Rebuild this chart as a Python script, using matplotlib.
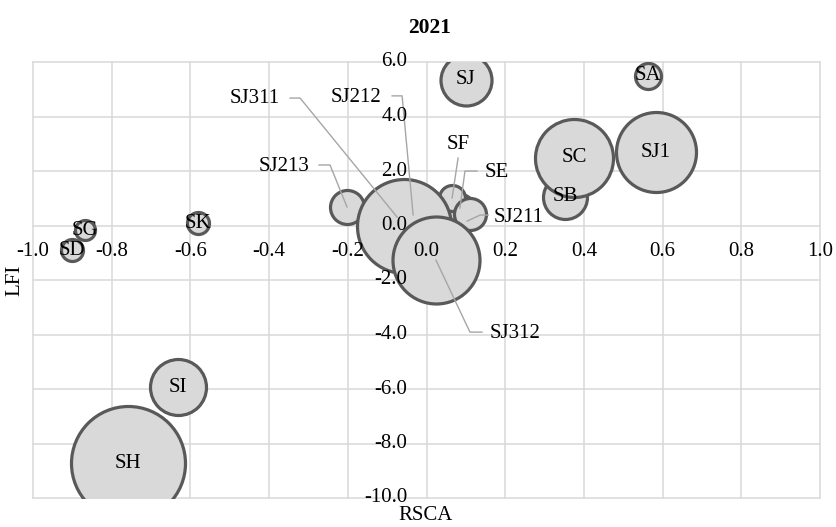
import numpy as np
import matplotlib.pyplot as plt

plt.rcParams["font.family"] = ["Liberation Serif", "DejaVu Serif"]

# ---- data ----
names = ["SA", "SB", "SC", "SD", "SE", "SF", "SG", "SH", "SI", "SJ", "SK",
         "SJ1", "SJ211", "SJ212", "SJ213", "SJ311", "SJ312"]
rsca = [0.563, 0.352, 0.375, -0.901, 0.085, 0.065, -0.868, -0.759, -0.632,
        0.100, -0.581, 0.583, 0.111, -0.034, -0.202, -0.057, 0.024]
lfi = [5.49, 1.05, 2.48, -0.90, 0.64, 1.01, -0.17, -8.72, -5.93,
       5.35, 0.09, 2.69, 0.42, 0.39, 0.68, -0.02, -1.27]
bubble_size = [169, 484, 1521, 121, 196, 169, 100, 3249, 784,
               650, 121, 1600, 256, 100, 289, 2209, 1892]

x_ticks = [-1.0, -0.8, -0.6, -0.4, -0.2, 0.0, 0.2, 0.4, 0.6, 0.8, 1.0]
y_ticks = [-10.0, -8.0, -6.0, -4.0, -2.0, 0.0, 2.0, 4.0, 6.0]

# label placement for the crowded ones (pixel offsets from bubble centre, y down)
# text offset, leader path (start, elbow, end)
callouts = {
    "SJ311": ((-149, -128), [(-114, -128), (-104, -128), (-7, -9)]),
    "SJ212": ((-57, -117), [(-21, -119), (-11, -119), (0, 0)]),
    "SJ213": ((-63, -40), [(-28, -42), (-17, -42), (0, 0)]),
    "SF": ((6, -53), [(6, -40), (0, 0)]),
    "SE": ((37, -36), [(17, -37), (5, -37), (0, 0)]),
    "SJ211": ((48, 3), [(18, 1), (10, 1), (-3, 7)]),
    "SJ312": ((79, 73), [(46, 72), (34, 72), (0, 0)]),
}

grid_c = "#d9d9d9"
fs = 15

fig = plt.figure(figsize=(8.37, 5.27), dpi=100)
ax = fig.add_axes([33 / 837, 29 / 527, 787 / 837, 436 / 527])
ax.set_xlim(-1.0, 1.0)
ax.set_ylim(-10.0, 6.0)
for s in ax.spines.values():
    s.set_visible(False)
ax.set_xticks([])
ax.set_yticks([])

# gridlines (Excel style, axes cross at 0)
for xv in x_ticks:
    ax.axvline(xv, color=grid_c, lw=1.1, zorder=0, clip_on=False)
for yv in y_ticks:
    ax.axhline(yv, color=grid_c, lw=1.1, zorder=0, clip_on=False)

# tick labels next to the zero axes
for xv in x_ticks:
    ax.annotate(f"{xv:.1f}", xy=(xv, 0), xytext=(0, -26), textcoords="offset pixels",
                ha="center", va="center", fontsize=fs, zorder=10)
for yv in y_ticks:
    ax.annotate(f"{yv:.1f}", xy=(0, yv), xytext=(-19, 0), textcoords="offset pixels",
                ha="right", va="center", fontsize=fs, zorder=10)

# bubbles, in series order so later ones sit on top (clipped to plot area)
px2 = (2 * 0.72) ** 2
for i, (nm, xv, yv, sz) in enumerate(zip(names, rsca, lfi, bubble_size)):
    ax.scatter([xv], [yv], s=sz * px2, facecolor="#d9d9d9", edgecolor="#595959",
               linewidth=2.3, zorder=2 + i * 0.01, clip_on=True)

fig.canvas.draw()
to_data = ax.transData.inverted()

for nm, xv, yv in zip(names, rsca, lfi):
    if nm in callouts:
        (tdx, tdy), path = callouts[nm]
        base = ax.transData.transform((xv, yv))
        pts = np.array([base + np.array([dx, -dy]) for dx, dy in path])
        pts = to_data.transform(pts)
        ax.plot(pts[:, 0], pts[:, 1], color="#a6a6a6", lw=1.0, zorder=8, clip_on=False)
        ax.annotate(nm, xy=(xv, yv), xytext=(tdx, -tdy), textcoords="offset pixels",
                    ha="center", va="center", fontsize=fs, zorder=11)
    else:
        ax.text(xv, yv, nm, ha="center", va="center", fontsize=fs, zorder=11)

fig.text(430 / 837, 1 - 28 / 527, "2021", ha="center", va="center",
         fontsize=15.5, fontweight="bold")
fig.text(426 / 837, 1 - 515 / 527, "RSCA", ha="center", va="center", fontsize=fs)
fig.text(15 / 837, 1 - 280 / 527, "LFI", ha="center", va="center", fontsize=fs,
         rotation=90)

fig.savefig("out.png", dpi=100)
